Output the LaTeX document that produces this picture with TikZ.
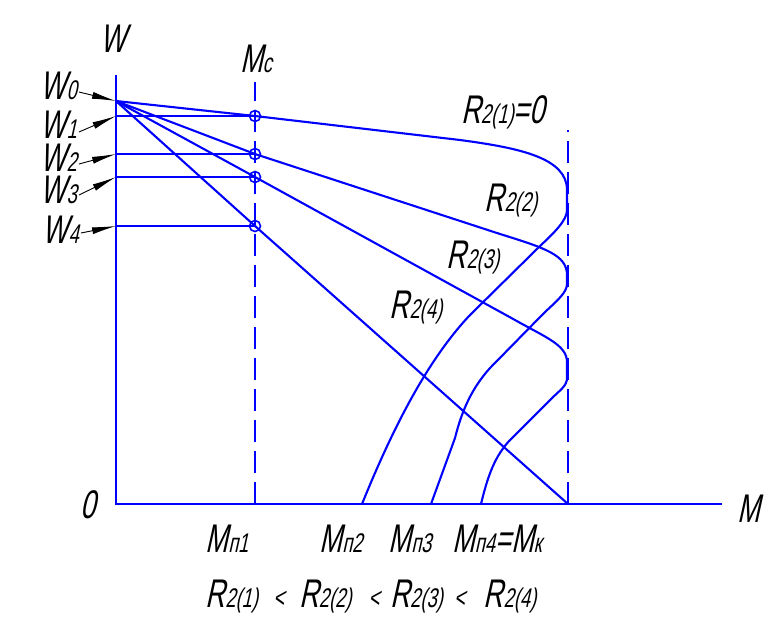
\documentclass[tikz,border=0pt]{standalone}
\usepackage{fontspec}
\setmainfont{Liberation Sans}[FakeSlant=0.22,FakeStretch=0.68]
\usetikzlibrary{arrows.meta}
\newcommand{\sbs}[1]{{\fontsize{27}{27}\selectfont #1}}
\newcommand{\lt}{{\fontsize{28}{28}\selectfont <}}
\tikzset{
  ax/.style={blue, line width=2.8pt},
  crv/.style={blue, line width=2.1pt, line join=round},
  dsh/.style={blue, line width=2.3pt, dash pattern=on 22pt off 9pt},
  ring/.style={circle, draw=blue, line width=1.6pt, minimum size=11pt, inner sep=0pt},
  lbl/.style={font=\fontsize{40}{42}\selectfont, inner sep=0pt},
  warrow/.style={black, line width=0.9pt, -{Latex[length=24pt,width=7pt]}}
}
\begin{document}
\begin{tikzpicture}[x=1pt,y=-1pt]
\useasboundingbox (0,0) rectangle (775,622);
% axes
\coordinate (top) at (116,75);
\coordinate (O) at (116,504);
\coordinate (xend) at (722,504);
\draw[ax] (top) -- (O) -- (xend);
% points on W axis
\coordinate (a0) at (116,101);
\coordinate (a1) at (116,116);
\coordinate (a2) at (116,154);
\coordinate (a3) at (116,177);
\coordinate (a4) at (116,226);
% dashed lines
\coordinate (mcb) at (255,504);
\coordinate (mct) at (255,82);
\coordinate (mkb) at (568,504);
\coordinate (mkt) at (568,130);
\draw[dsh] (mcb) -- (mct);
\draw[dsh] (mkb) -- (mkt);
% rings
\coordinate (c1) at (255,116);
\coordinate (c2) at (255,154);
\coordinate (c3) at (255,177);
\coordinate (c4) at (255,226);
% horizontals
\draw[crv] (a1) -- (c1);
\draw[crv] (a2) -- (c2);
\draw[crv] (a3) -- (c3);
\draw[crv] (a4) -- (c4);
% curve 1
\coordinate (mn2) at (362,504);
\draw[crv] (a0) -- (c1) -- (460,140) .. controls (520,148) and (567,158) .. (567,190)
  -- (567,210) .. controls (567,220) and (555,232) .. (540,246)
  -- (470,315) .. controls (435,352) and (400,410) .. (mn2);
% curve 2
\coordinate (mn3) at (431,504);
\draw[crv] (a0) -- (c2) -- (500,234) .. controls (545,248) and (567,255) .. (567,275)
  -- (567,284) .. controls (567,292) and (558,300) .. (545,312)
  -- (490,368) .. controls (472,388) and (462,410) .. (455,438) -- (mn3);
% curve 3
\coordinate (mn4) at (481,504);
\draw[crv] (a0) -- (c3) -- (515,320) .. controls (545,337) and (567,345) .. (567,362)
  -- (567,378) .. controls (567,386) and (560,390) .. (550,400)
  -- (510,440) .. controls (495,456) and (488,475) .. (mn4);
% curve 4
\draw[crv] (a0) -- (c4) -- (mkb);
% ring nodes
\node[ring] (r1) at (c1) {};
\node[ring] (r2) at (c2) {};
\node[ring] (r3) at (c3) {};
\node[ring] (r4) at (c4) {};
% labels
\node[lbl, anchor=base] (lW) at (113,52) {W};
\node[lbl, anchor=base] (lMc) at (256,72) {M\sbs{с}};
\node[lbl, anchor=base east] (lW0) at (77,99) {W\sbs{0}};
\node[lbl, anchor=base east] (lW1) at (77,138) {W\sbs{1}};
\node[lbl, anchor=base east] (lW2) at (77,171) {W\sbs{2}};
\node[lbl, anchor=base east] (lW3) at (77,203) {W\sbs{3}};
\node[lbl, anchor=base east] (lW4) at (79,243) {W\sbs{4}};
\draw[warrow] ([shift={(2pt,7pt)}]lW0.base east) -- (a0);
\draw[warrow] ([shift={(2pt,6pt)}]lW1.base east) -- (a1);
\draw[warrow] ([shift={(2pt,7pt)}]lW2.base east) -- (a2);
\draw[warrow] ([shift={(2pt,8pt)}]lW3.base east) -- (a3);
\draw[warrow] ([shift={(2pt,10pt)}]lW4.base east) -- (a4);
\node[lbl, anchor=base] (l0) at (88,518) {0};
\node[lbl, anchor=base] (lM) at (749,522) {M};
\node[lbl, anchor=base] (lR1) at (503,123) {R\sbs{2(1)}=0};
\node[lbl, anchor=base] (lR2) at (511,211) {R\sbs{2(2)}};
\node[lbl, anchor=base] (lR3) at (473,268) {R\sbs{2(3)}};
\node[lbl, anchor=base] (lR4) at (416,318) {R\sbs{2(4)}};
\node[lbl, anchor=base] (lMn1) at (227,552) {M\sbs{п1}};
\node[lbl, anchor=base] (lMn2) at (341,552) {M\sbs{п2}};
\node[lbl, anchor=base] (lMn3) at (410,552) {M\sbs{п3}};
\node[lbl, anchor=base] (lMn4) at (497,552) {M\sbs{п4}=M\sbs{к}};
\node[lbl, anchor=base] (lineq) at (371,607) {R\sbs{2(1)}\hspace{15pt}\lt\hspace{15pt}R\sbs{2(2)}\hspace{17pt}\lt\hspace{11pt}R\sbs{2(3)}\hspace{11pt}\lt\hspace{19pt}R\sbs{2(4)}};
\end{tikzpicture}
\end{document}
